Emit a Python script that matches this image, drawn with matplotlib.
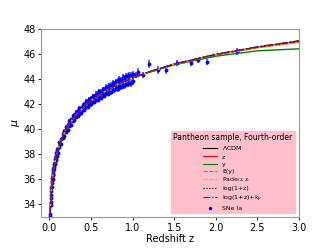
import numpy as np
import matplotlib
matplotlib.use('Agg')
import matplotlib.pyplot as plt

# model curves
z_model = [0.01, 0.015, 0.02, 0.03, 0.04, 0.05, 0.06, 0.08, 0.1, 0.12, 0.15, 0.2, 0.25, 0.3,
           0.35, 0.4, 0.45, 0.5, 0.6, 0.7, 0.8, 0.9, 1.0, 1.2, 1.5, 2.0, 2.5, 3.0]
mu_lcdm = [33.17, 34.06, 34.69, 35.59, 36.24, 36.73, 37.15, 37.80, 38.32, 38.75, 39.27, 39.96, 40.51, 40.96,
           41.34, 41.68, 41.98, 42.26, 42.74, 43.15, 43.51, 43.82, 44.10, 44.57, 45.19, 45.96, 46.55, 47.03]
mu_z = [33.17, 34.06, 34.69, 35.59, 36.24, 36.73, 37.15, 37.80, 38.32, 38.75, 39.27, 39.96, 40.51, 40.96,
        41.34, 41.68, 41.98, 42.26, 42.74, 43.15, 43.51, 43.82, 44.10, 44.57, 45.19, 45.95, 46.52, 46.97]
mu_y = [33.17, 34.06, 34.69, 35.59, 36.24, 36.73, 37.15, 37.80, 38.32, 38.75, 39.27, 39.96, 40.51, 40.96,
        41.34, 41.68, 41.98, 42.26, 42.74, 43.15, 43.51, 43.82, 44.09, 44.55, 45.14, 45.83, 46.26, 46.42]
mu_ey = [33.17, 34.06, 34.69, 35.59, 36.24, 36.73, 37.15, 37.80, 38.32, 38.75, 39.27, 39.96, 40.51, 40.96,
         41.34, 41.68, 41.98, 42.26, 42.74, 43.15, 43.51, 43.82, 44.10, 44.57, 45.19, 45.96, 46.54, 47.01]
mu_pade = [33.17, 34.06, 34.69, 35.59, 36.24, 36.73, 37.15, 37.80, 38.32, 38.75, 39.27, 39.96, 40.51, 40.96,
           41.34, 41.68, 41.98, 42.26, 42.74, 43.15, 43.51, 43.82, 44.10, 44.56, 45.18, 45.94, 46.50, 46.93]
mu_log = [33.17, 34.06, 34.69, 35.59, 36.24, 36.73, 37.15, 37.80, 38.32, 38.75, 39.27, 39.96, 40.51, 40.96,
          41.34, 41.68, 41.98, 42.26, 42.74, 43.15, 43.51, 43.82, 44.10, 44.57, 45.19, 45.96, 46.55, 47.02]
mu_logk = [33.17, 34.06, 34.69, 35.59, 36.24, 36.73, 37.15, 37.80, 38.32, 38.75, 39.27, 39.96, 40.51, 40.96,
           41.34, 41.68, 41.98, 42.26, 42.74, 43.15, 43.51, 43.82, 44.10, 44.58, 45.20, 45.98, 46.58, 47.06]

# SNe Ia (Pantheon), dense part: two points per redshift, estimated from the band
z_sn = [0.010, 0.015, 0.020, 0.025, 0.030, 0.035, 0.040, 0.045, 0.050, 0.055, 0.060, 0.065, 0.070,
        0.075, 0.080, 0.085, 0.090, 0.095,
        0.10, 0.12, 0.14, 0.16, 0.18, 0.20, 0.22, 0.24, 0.26, 0.28, 0.30, 0.32, 0.34, 0.36, 0.38,
        0.40, 0.42, 0.44, 0.46, 0.48, 0.50, 0.52, 0.54, 0.56, 0.58, 0.60, 0.62, 0.64, 0.66, 0.68,
        0.70, 0.72, 0.74, 0.76, 0.78, 0.80, 0.82, 0.84, 0.86, 0.88, 0.90, 0.92, 0.94, 0.96, 0.98, 1.00]
mu_sn_a = [33.27, 34.21, 34.77, 35.35, 35.71, 36.12, 36.34, 36.70, 36.85, 37.13, 37.24, 37.53, 37.64,
           37.88, 37.90, 38.13, 38.20, 38.41,
           38.47, 38.95, 39.20, 39.66, 39.86, 40.20, 40.33, 40.68, 40.78, 41.05, 41.11, 41.39, 41.46, 41.69, 41.71,
           41.94, 42.00, 42.22, 42.21, 42.42, 42.46, 42.66, 42.64, 42.84, 42.86, 43.06, 43.01, 43.20, 43.21, 43.40,
           43.35, 43.52, 43.54, 43.72, 43.66, 43.83, 43.83, 44.00, 43.94, 44.14, 44.10, 44.28, 44.23, 44.35, 44.30, 44.40]
mu_sn_b = [33.05, 33.98, 34.54, 35.08, 35.43, 35.85, 36.07, 36.39, 36.55, 36.85, 36.96, 37.21, 37.30,
           37.55, 37.62, 37.81, 37.87, 38.08,
           38.14, 38.61, 38.86, 39.27, 39.46, 39.81, 39.94, 40.26, 40.36, 40.63, 40.70, 40.97, 41.02, 41.24, 41.28,
           41.52, 41.54, 41.74, 41.76, 41.98, 41.99, 42.18, 42.18, 42.37, 42.36, 42.56, 42.52, 42.71, 42.69, 42.86,
           42.84, 43.00, 42.98, 43.14, 43.11, 43.27, 43.23, 43.42, 43.35, 43.51, 43.46, 43.64, 43.59, 43.73, 43.66, 43.82]
err_sn = [0.12, 0.12, 0.12, 0.12, 0.12, 0.12, 0.12, 0.12, 0.12, 0.12, 0.12, 0.12, 0.12,
          0.12, 0.12, 0.12, 0.12, 0.12,
          0.13, 0.13, 0.13, 0.13, 0.14, 0.14, 0.14, 0.14, 0.15, 0.15, 0.15, 0.15, 0.16, 0.16, 0.16,
          0.16, 0.17, 0.17, 0.17, 0.17, 0.18, 0.18, 0.18, 0.18, 0.19, 0.19, 0.19, 0.20, 0.20, 0.20,
          0.21, 0.21, 0.21, 0.22, 0.22, 0.22, 0.23, 0.23, 0.23, 0.24, 0.24, 0.24, 0.25, 0.25, 0.25, 0.26]

# sparse high-redshift SNe
z_hi = [1.04, 1.07, 1.12, 1.20, 1.30, 1.40, 1.54, 1.70, 1.79, 1.90, 2.26]
mu_hi = [44.35, 44.60, 44.33, 45.20, 44.75, 44.70, 45.30, 45.30, 45.50, 45.35, 46.20]
err_hi = [0.25, 0.25, 0.25, 0.30, 0.30, 0.30, 0.25, 0.25, 0.20, 0.25, 0.25]

z_all = z_sn + z_sn + z_hi
mu_all = mu_sn_a + mu_sn_b + mu_hi
err_all = err_sn + err_sn + err_hi

fig = plt.figure(figsize=(3.32, 2.49), dpi=100)
ax = fig.add_axes([0.1235, 0.1285, 0.777, 0.755])

ax.errorbar(z_all, mu_all, yerr=err_all, fmt='none', ecolor='blue', alpha=0.8, elinewidth=1.1)
ax.plot(z_all, mu_all, '.', color='blue', markersize=3.5)

ax.plot(z_model, mu_lcdm, color='black', lw=1.0, label=r'$\Lambda$CDM')
ax.plot(z_model, mu_z, color='red', lw=1.0, label='z')
ax.plot(z_model, mu_y, color='green', lw=1.0, label='y')
ax.plot(z_model, mu_ey, color='gray', lw=1.0, ls='--', label='E(y)')
ax.plot(z_model, mu_pade, color='orange', lw=1.0, ls='--', label=r'Pade$_{(2,2)}$')
ax.plot(z_model, mu_log, color='black', lw=1.0, ls=':', label='log(1+z)')
ax.plot(z_model, mu_logk, color='purple', lw=1.0, ls='-.', label=r'log(1+z)+k$_y$')
ax.plot([], [], '.', color='blue', markersize=3, label='SNe Ia')

ax.set_xlim(-0.1, 3.0)
ax.set_ylim(33, 48)
ax.set_xticks([0.0, 0.5, 1.0, 1.5, 2.0, 2.5, 3.0])
ax.set_yticks([34, 36, 38, 40, 42, 44, 46, 48])
ax.tick_params(labelsize=7, length=2.5, width=0.6, pad=1.5)
ax.set_xlabel('Redshift z', fontsize=7, labelpad=1)
ax.set_ylabel(r'$\mu$', fontsize=8)
ax.yaxis.set_label_coords(-0.075, 0.5)
for s in ax.spines.values():
    s.set_color('#999999')
    s.set_linewidth(0.8)

leg = ax.legend(loc='lower right', title='Pantheon sample, Fourth-order', fontsize=4.5,
                title_fontsize=5.5, facecolor='pink', edgecolor='pink', framealpha=1,
                fancybox=False, labelspacing=0.3, handlelength=2.2, borderaxespad=0.6)
for h in leg.get_lines():
    h.set_linewidth(0.8)

fig.savefig('out.png', dpi=100)
